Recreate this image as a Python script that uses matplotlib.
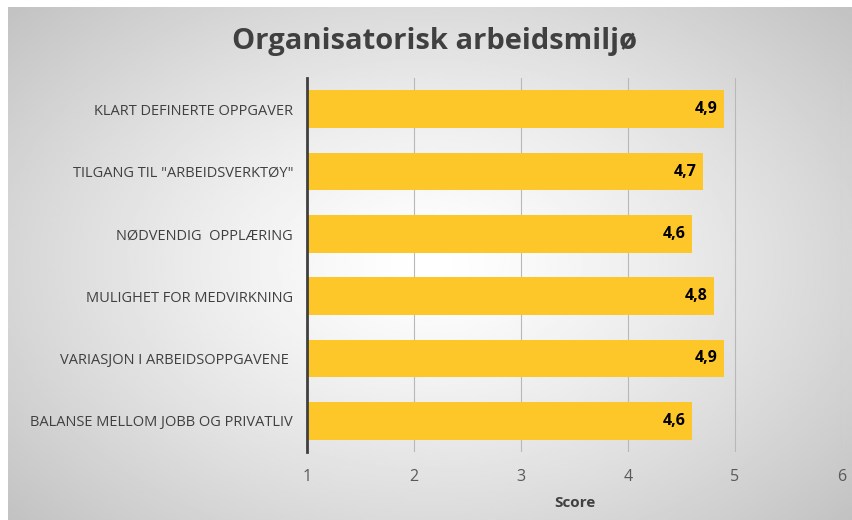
import numpy as np
import matplotlib.pyplot as plt

# data
categories = [
    "KLART DEFINERTE OPPGAVER",
    'TILGANG TIL "ARBEIDSVERKTØY"',
    "NØDVENDIG  OPPLÆRING",
    "MULIGHET FOR MEDVIRKNING",
    "VARIASJON I ARBEIDSOPPGAVENE ",
    "BALANSE MELLOM JOBB OG PRIVATLIV",
]
scores = [4.9, 4.7, 4.6, 4.8, 4.9, 4.6]
value_labels = ["4,9", "4,7", "4,6", "4,8", "4,9", "4,6"]
xticks = [1, 2, 3, 4, 5, 6]

plt.rcParams['font.family'] = ['Open Sans', 'DejaVu Sans']

fig = plt.figure(figsize=(8.52, 5.2), dpi=100)
W, H = 852, 520

# gray panel with radial gradient (white middle, gray edges)
bg = fig.add_axes([8 / W, 0, 1 - 8 / W, 1 - 7 / H])
bg.set_axis_off()
nx, ny = 400, 250
xx, yy = np.meshgrid(np.linspace(-1, 1, nx), np.linspace(-1, 1, ny))
r = np.sqrt((xx * 1.0) ** 2 + (yy * 0.9) ** 2)
shade = 1.0 - 0.24 * np.clip(r / 1.35, 0, 1) ** 1.3
bg.imshow(shade, cmap='gray', vmin=0, vmax=1, aspect='auto',
          extent=[0, 1, 0, 1], interpolation='bilinear')
bg.set_xlim(0, 1)
bg.set_ylim(0, 1)

ax = fig.add_axes([307 / W, 1 - 452 / H, (842 - 307) / W, (452 - 78) / H])
ax.patch.set_alpha(0)

y = np.arange(len(categories))
ax.barh(y, [s - 1 for s in scores], left=1, height=0.6, color='#FDC629', zorder=3)
for yi, s, lab in zip(y, scores, value_labels):
    ax.text(s - 0.06, yi, lab, ha='right', va='center', fontsize=11.5,
            fontweight='bold', color='black', zorder=4)

ax.set_xlim(1, 6)
ax.set_ylim(len(categories) - 0.5, -0.5)
ax.set_xticks(xticks)
ax.set_xticklabels([str(t) for t in xticks], fontsize=11.5, color='#595959')
ax.set_yticks(y)
ax.set_yticklabels(categories, fontsize=10.5, color='#404040')
ax.tick_params(axis='both', length=0)
ax.tick_params(axis='x', pad=12)
ax.tick_params(axis='y', pad=10)
ax.grid(axis='x', color='#b8b8b8', linewidth=0.8, zorder=0)

for side in ['top', 'right', 'bottom']:
    ax.spines[side].set_visible(False)
ax.spines['left'].set_color('#404040')
ax.spines['left'].set_linewidth(2)
ax.spines['left'].set_zorder(5)

ax.set_xlabel("Score", fontsize=11, fontweight='bold', color='#404040', labelpad=8)

fig.text(435 / W, 1 - 42 / H, "Organisatorisk arbeidsmiljø", ha='center', va='center',
         fontsize=21, fontweight='bold', color='#404040')

fig.savefig('out.png', dpi=100)
